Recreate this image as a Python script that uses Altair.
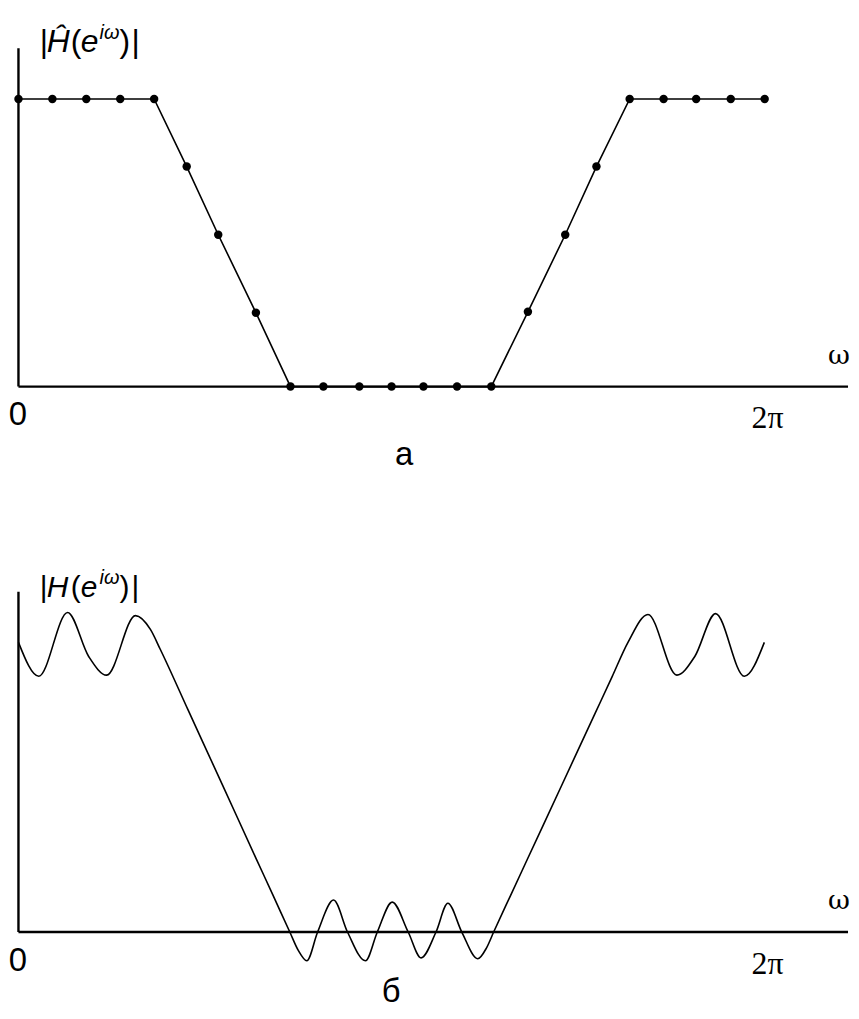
import altair as alt
import pandas as pd

# ---- data (omega in sample-step units, 2*pi at 22) ----
k_top = [0, 1, 2, 3, 4, 4.96, 5.89, 7, 8.02, 8.99, 10.05, 11, 11.94, 12.93,
         13.94, 15.02, 16.12, 17.04, 18.02, 19.02, 19.98, 21, 22]
h_top = [1, 1, 1, 1, 1, 0.765, 0.528, 0.257, 0, 0, 0, 0, 0, 0,
         0, 0.26, 0.528, 0.765, 1, 1, 1, 1, 1]

k_bot = [0.0, 0.60, 1.45, 2.07, 2.60, 3.45, 3.89, 4.18, 5.0, 6.0, 7.0, 7.5,
         8.00, 8.25, 8.50, 8.82, 9.29, 9.70, 10.23, 10.58, 11.02, 11.49, 11.87,
         12.31, 12.66, 13.07, 13.54, 13.80, 14.01, 14.5, 15.0, 16.0, 17.0,
         17.5, 17.97, 18.56, 19.41, 19.94, 20.55, 21.40, 21.99]
h_bot = [1.007, 0.889, 1.111, 0.958, 0.893, 1.100, 1.052, 0.983, 0.772, 0.515,
         0.257, 0.129, 0.0, -0.064, -0.100, 0.0, 0.111, 0.0, -0.100, 0.0, 0.104,
         0.0, -0.090, 0.0, 0.100, 0.0, -0.093, -0.055, 0.0, 0.125, 0.252, 0.506,
         0.760, 0.887, 1.007, 1.104, 0.893, 0.958, 1.107, 0.889, 1.007]

# ---- layout ----
W = 843
H1, H2 = 470, 523
X_DOM = [-0.279, 24.457]
Y1_DOM = [-0.3183, 1.308]
Y2_DOM = [-0.2664, 1.5433]
SANS = "Liberation Sans"
SERIF = "Liberation Serif"

sx = alt.Scale(domain=X_DOM, nice=False, zero=False)


def sy(dom):
    return alt.Scale(domain=dom, nice=False, zero=False)


def one():
    return pd.DataFrame({"a": [0]})


def axes(ydom, ytop):
    s = sy(ydom)
    vert = alt.Chart(one()).mark_rule(color="black", strokeWidth=2.4).encode(
        x=alt.XDatum(0, type="quantitative", scale=sx, axis=None),
        y=alt.YDatum(0, type="quantitative", scale=s, axis=None),
        y2=alt.Y2Datum(ytop),
    )
    horiz = alt.Chart(one()).mark_rule(color="black", strokeWidth=2.4).encode(
        x=alt.XDatum(0, type="quantitative", scale=sx, axis=None),
        x2=alt.X2Datum(X_DOM[1]),
        y=alt.YDatum(0, type="quantitative", scale=s, axis=None),
    )
    return [vert, horiz]


def label(text, x, y, size, font=SANS, style="normal", align="left"):
    return alt.Chart(pd.DataFrame({"t": [text]})).mark_text(
        font=font, fontSize=size, fontStyle=style, align=align,
        baseline="alphabetic", color="black",
    ).encode(text="t:N", x=alt.value(x), y=alt.value(y))


def ylabel(hat, base, size):
    sup = base - 13
    return [
        label("|", 31, base, size),
        label("Ĥ" if hat else "H", 38, base, size, style="italic"),
        label("(", 62, base, size),
        label("e", 72, base, size, style="italic"),
        label("iω", 91, sup, 20, style="italic"),
        label(")", 111, base, size),
        label("|", 123, base, size),
    ]


def xlabels(axis_y, sub, sub_x):
    return [
        label("0", 9, axis_y + 39, 33, align="center"),
        label("2π", 746, axis_y + 42, 32, font=SERIF),
        label("ω", 823, axis_y - 23, 27, font="DejaVu Serif"),
        label(sub, sub_x, min(axis_y + 79, 523 - 7), 33, align="center"),
    ]


# ---- panel a ----
top = pd.DataFrame({"k": k_top, "h": h_top})
enc_top = dict(
    x=alt.X("k:Q", scale=sx, axis=None),
    y=alt.Y("h:Q", scale=sy(Y1_DOM), axis=None),
)
line_a = alt.Chart(top).mark_line(color="black", strokeWidth=1.6).encode(**enc_top)
dots_a = alt.Chart(top).mark_circle(color="black", size=72, opacity=1).encode(**enc_top)

panel_a = alt.layer(
    *axes(Y1_DOM, 1.176), line_a, dots_a,
    *ylabel(True, 42, 32),
    *xlabels(378, "а", 397),
).properties(width=W, height=H1)

# ---- panel б ----
bot = pd.DataFrame({"k": k_bot, "h": h_bot})
line_b = alt.Chart(bot).mark_line(
    color="black", strokeWidth=1.6, interpolate="monotone"
).encode(
    x=alt.X("k:Q", scale=sx, axis=None),
    y=alt.Y("h:Q", scale=sy(Y2_DOM), axis=None),
)

panel_b = alt.layer(
    *axes(Y2_DOM, 1.183), line_b,
    *ylabel(False, 109, 30),
    *xlabels(446, "б", 384),
).properties(width=W, height=H2)

chart = alt.vconcat(panel_a, panel_b, spacing=10).properties(
    padding=0, background="white"
).configure_view(stroke=None)

chart.save("out.html", embed_options={"renderer": "svg", "actions": False})
